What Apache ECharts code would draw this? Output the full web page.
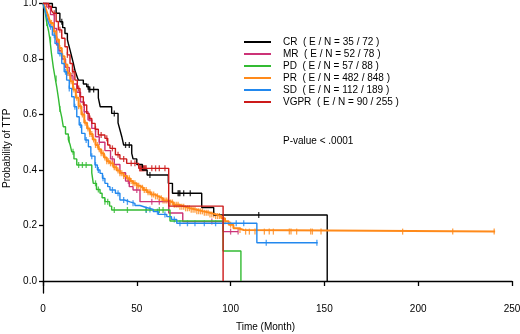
<!DOCTYPE html>
<html>
<head>
<meta charset="utf-8">
<script src="https://cdn.jsdelivr.net/npm/echarts@6/dist/echarts.min.js"></script>
<style>
  html, body { margin: 0; padding: 0; background: #fff; }
  #chart { width: 520px; height: 334px; }
</style>
</head>
<body>
<div id="chart"></div>
<script>
// groups and the legend labels
var groups = ['CR', 'MR', 'PD', 'PR', 'SD', 'VGPR'];
var counts = ['35 / 72', '52 / 78', '57 / 88', '482 / 848', '112 / 189', '90 / 255'];
var colors = ['#000000', '#cc3377', '#33bb33', '#ff8a1a', '#2288ee', '#cc1a1a'];

// Kaplan-Meier steps: [month, probability after the drop]
var crSteps = [[0,1],[5,0.986],[7,0.965],[9,0.934],[10.5,0.913],[11.7,0.892],[13,0.87],[13.5,0.856],[14.5,0.83],
  [15.3,0.808],[16.2,0.784],[17,0.76],[18,0.74],[18.8,0.724],[21.5,0.71],[23.3,0.70],[24.5,0.69],[29.5,0.66],
  [30.5,0.628],[36.6,0.604],[40,0.57],[41,0.545],[42,0.52],[43,0.49],[47.3,0.46],[48,0.44],[50,0.42],[53,0.40],
  [55.5,0.382],[66.8,0.352],[69,0.316],[84.6,0.265],[91,0.238],[151.5,0]];
var mrSteps = [[0,1],[2,0.987],[4,0.96],[6,0.91],[7.3,0.85],[8.5,0.83],[10,0.80],[12,0.77],[14,0.74],[16,0.71],
  [18,0.68],[20,0.645],[22,0.61],[24,0.58],[26,0.55],[28,0.52],[30,0.50],[33,0.47],[36,0.44],[38,0.42],[41,0.39],
  [44,0.36],[46,0.34],[48,0.328],[51.7,0.286],[67,0.245],[74.5,0.214],[96,0.178],[104,0.178]];
var pdSteps = [[0,1],[1,0.977],[2,0.93],[3,0.9],[3.7,0.87],[4.5,0.82],[5.5,0.77],[6.5,0.73],[7.3,0.70],[8.2,0.66],
  [9,0.62],[10,0.59],[10.8,0.556],[12,0.53],[13.5,0.51],[14.5,0.49],[15.3,0.466],[16.5,0.44],[18,0.418],[26,0.39],
  [26.8,0.352],[28.5,0.33],[30.4,0.316],[31.5,0.30],[33,0.286],[35.5,0.27],[36.6,0.256],[67.7,0.216],[96,0.108],[105.5,0]];
var prSteps = [[0,1],[1,0.99],[2,0.97],[3,0.95],[4,0.93],[5.5,0.90],[7,0.87],[8.5,0.84],[10,0.81],[11.5,0.78],
  [13,0.75],[14.5,0.72],[16,0.69],[17.5,0.66],[19,0.63],[20.5,0.60],[22,0.57],[23.5,0.55],[25,0.53],[26.5,0.51],
  [28,0.49],[29.5,0.475],[31,0.46],[32.5,0.445],[34,0.432],[35.7,0.424],[37.5,0.41],[39.3,0.398],[41,0.388],
  [43,0.378],[44.7,0.37],[46.4,0.36],[48,0.352],[50,0.343],[51.7,0.336],[53.5,0.328],[55.5,0.32],[57.5,0.312],
  [59.5,0.305],[61.5,0.298],[64,0.29],[66.5,0.283],[69.5,0.275],[72.5,0.268],[75.5,0.262],[78.5,0.257],[82,0.251],
  [85.5,0.246],[89,0.24],[92,0.234],[95,0.226],[97,0.215],[99,0.203],[101.5,0.19],[104,0.184],[107,0.178],[241,0.178]];
var sdSteps = [[0,1],[1,0.977],[2,0.95],[3,0.93],[3.7,0.916],[5,0.886],[6.4,0.856],[8,0.82],[10,0.784],[11.3,0.754],
  [12.6,0.724],[14,0.694],[15.3,0.664],[16.6,0.628],[18,0.592],[19.3,0.562],[20.6,0.532],[22.4,0.508],[24.2,0.484],
  [25.5,0.45],[27.7,0.418],[29,0.40],[30.4,0.388],[31.7,0.37],[33,0.352],[34.5,0.34],[35.7,0.328],[38.6,0.316],
  [41,0.292],[43.5,0.285],[46.4,0.28],[49,0.272],[51.7,0.265],[55,0.258],[58.8,0.25],[61.5,0.24],[66,0.232],
  [68.5,0.222],[71.3,0.208],[114,0.138],[146.4,0.138]];
var vgprSteps = [[0,1],[3,0.99],[4.5,0.975],[5.5,0.965],[7,0.935],[8.2,0.905],[10,0.875],[11.7,0.844],[13,0.815],
  [14.4,0.784],[15.7,0.754],[17,0.724],[18.3,0.694],[19.7,0.664],[21.5,0.634],[23.3,0.604],[24.6,0.586],[26,0.568],
  [27.8,0.547],[29.5,0.526],[33,0.514],[34.5,0.49],[35.7,0.478],[38.6,0.455],[41,0.44],[44.6,0.424],[51,0.406],
  [67,0.27],[96,0]];

// censored times (months)
var crCens = [10, 24, 24.5, 25, 27, 38, 44, 46, 57, 72, 72.5, 73, 75, 78.5, 115];
var mrCens = [8, 15, 22, 30, 37, 45.5, 50, 58, 62, 90, 100, 104];
var pdCens = [2, 4, 7, 9, 14, 16, 19, 21, 23, 28, 29.5, 33, 34.5, 38, 45, 55, 62, 64];
var prCens = [3, 4.5, 6, 7.5, 9, 10.5, 12, 13, 14, 15, 16.5, 18, 19, 20, 21, 22.5, 24, 25, 26, 27, 28, 29, 30,
  31, 32, 33, 34, 35, 36, 37, 38, 39, 40, 41, 42, 43, 44, 45, 46, 47, 48, 49, 50, 51, 52, 53, 54, 55, 56, 57,
  58, 59, 60, 61, 62, 63, 64, 65, 66, 67, 68, 69, 70, 71, 72, 73, 74, 75, 76, 77, 78, 79, 80, 81, 82, 83, 84,
  85, 86, 87, 88, 89, 90, 91, 92, 93, 94, 96, 97, 100, 105, 108, 110, 113,
  118, 120.6, 122.8, 131.3, 132.2, 135.2, 142.7, 143.6, 148.2, 191.7, 218.4, 240.5];
var sdCens = [2, 4, 6, 9, 12, 14, 17, 20, 23, 26, 28, 29.5, 32, 37, 40, 43, 45, 48, 55, 57, 61, 65, 70, 73, 77,
  81, 86, 92, 103, 107, 119, 146];
var vgprCens = [3, 6, 9, 13, 16, 19, 22, 25, 28, 31, 34, 37, 40, 43, 47, 49, 51.5, 52, 52.5, 53, 53.5, 54, 54.5,
  55, 58, 60, 62, 65, 67];

var allSteps = [crSteps, mrSteps, pdSteps, prSteps, sdSteps, vgprSteps];
var allCens = [crCens, mrCens, pdCens, prCens, sdCens, vgprCens];

var xTicks = [0, 50, 100, 150, 200, 250];
var yTicks = [0, 0.2, 0.4, 0.6, 0.8, 1.0];

function survAt(steps, t) {
  var s = 1;
  for (var i = 0; i < steps.length; i++) {
    if (steps[i][0] <= t) s = steps[i][1];
  }
  return s;
}

var font = 'Arial, "Liberation Sans", sans-serif';
var series = [];
for (var g = 0; g < groups.length; g++) {
  series.push({
    name: groups[g],
    type: 'line',
    step: 'end',
    data: allSteps[g],
    showSymbol: false,
    clip: false,
    color: colors[g],
    lineStyle: { width: groups[g] === 'PR' ? 2 : 1.4, color: colors[g] }
  });
}
for (var k = 0; k < groups.length; k++) {
  var pts = [];
  for (var j = 0; j < allCens[k].length; j++) {
    pts.push([allCens[k][j], survAt(allSteps[k], allCens[k][j])]);
  }
  series.push({
    name: groups[k] + ' censored',
    type: 'scatter',
    data: pts,
    symbol: 'rect',
    symbolSize: [1.3, 6],
    clip: false,
    silent: true,
    itemStyle: { color: colors[k] }
  });
}

var myChart = echarts.init(document.getElementById('chart'));
var option = {
  animation: false,
  backgroundColor: '#fff',
  grid: { left: 43, right: 8, top: 3.5, bottom: 41, containLabel: false, outerBoundsMode: 'none' },
  legend: {
    data: groups,
    orient: 'vertical',
    left: 244,
    top: 36,
    padding: 0,
    icon: 'rect',
    itemWidth: 27,
    itemHeight: 2,
    itemGap: 0,
    formatter: function (name) {
      return name + '  ( E / N = ' + counts[groups.indexOf(name)] + ' )';
    },
    textStyle: { fontFamily: font, fontSize: 10, color: '#000', lineHeight: 12, padding: [0, 0, 0, 7] }
  },
  xAxis: {
    type: 'value',
    min: 0,
    max: 250,
    interval: 50,
    splitLine: { show: false },
    axisLine: { lineStyle: { color: '#000', width: 1.3 } },
    axisTick: { length: 5, lineStyle: { color: '#000', width: 1.3 } },
    axisLabel: { color: '#000', fontFamily: font, fontSize: 10, margin: 11 },
    name: 'Time (Month)',
    nameLocation: 'middle',
    nameGap: 29,
    nameTextStyle: { color: '#000', fontFamily: font, fontSize: 10, padding: [0, 24, 0, 0] }
  },
  yAxis: {
    type: 'value',
    min: -0.0432,
    max: 1.0,
    splitLine: { show: false },
    axisLine: { lineStyle: { color: '#000', width: 1.3 } },
    axisTick: { length: 4, customValues: yTicks, lineStyle: { color: '#000', width: 1.3 } },
    axisLabel: {
      customValues: yTicks,
      color: '#000', fontFamily: font, fontSize: 10, margin: 6,
      formatter: function (v) { return v.toFixed(1); }
    },
    name: 'Probability of TTP',
    nameLocation: 'middle',
    nameGap: 31,
    nameTextStyle: { color: '#000', fontFamily: font, fontSize: 10 }
  },
  graphic: [{
    type: 'text',
    left: 283,
    top: 136,
    style: { text: 'P-value < .0001', fontFamily: font, fontSize: 10, fill: '#000' }
  }],
  series: series
};
myChart.setOption(option);
</script>
</body>
</html>
